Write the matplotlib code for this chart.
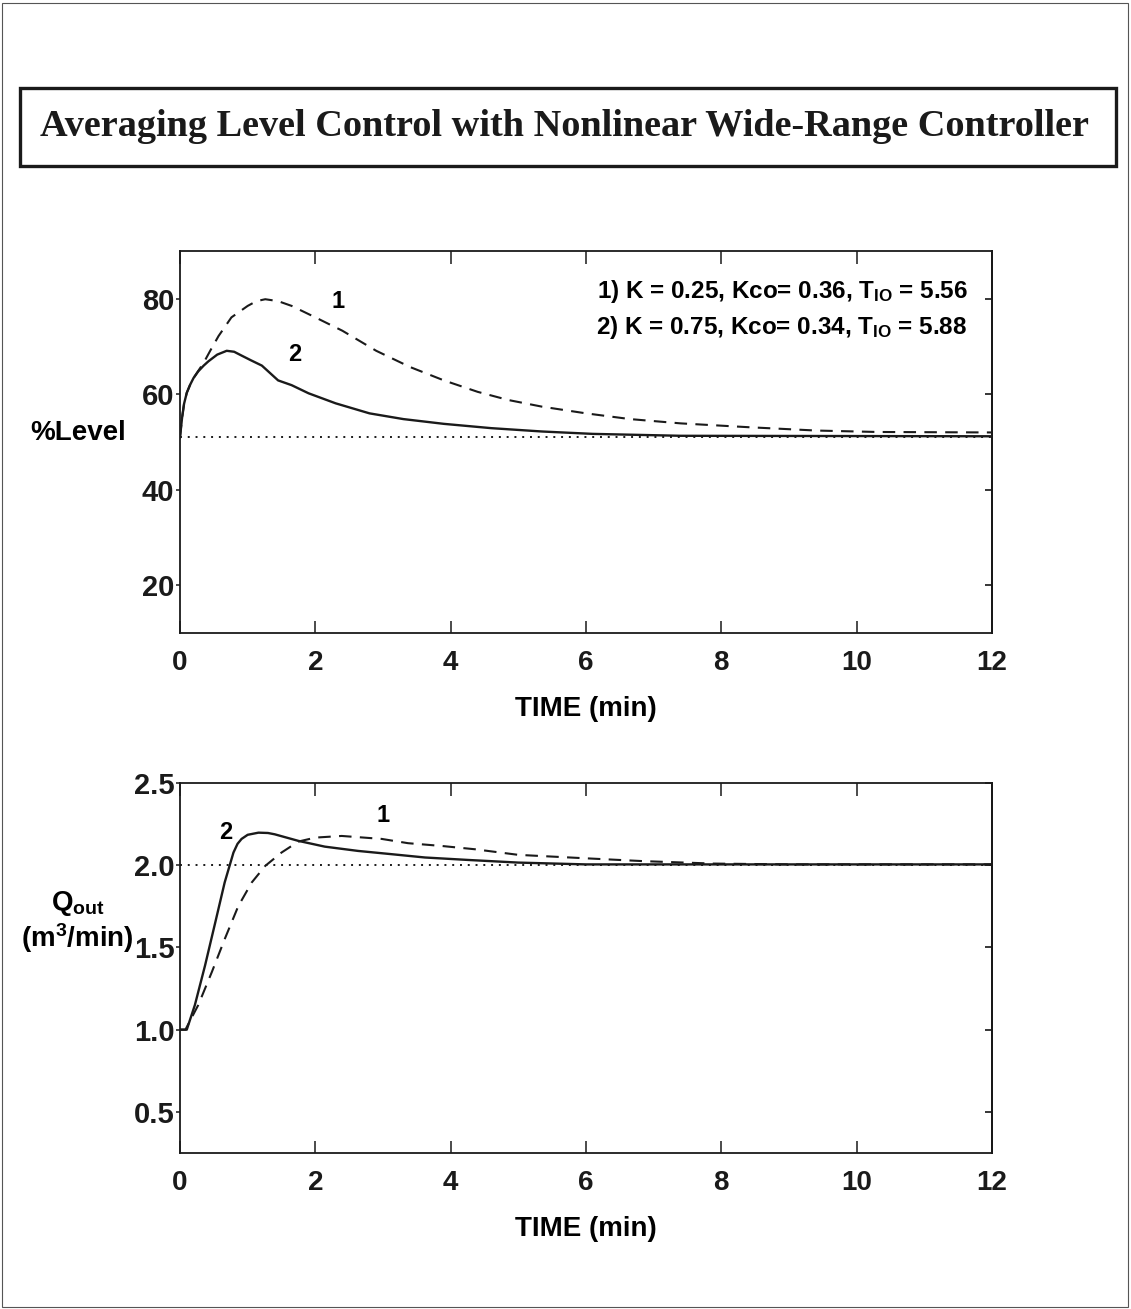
import matplotlib
matplotlib.use("Agg")
import matplotlib.pyplot as plt
import matplotlib.patches as patches
from matplotlib import font_manager

# --- data ---
# upper panel: %Level vs time (min)
lvl_t1 = [0, 0.03, 0.06, 0.1, 0.15, 0.2, 0.27, 0.35, 0.45, 0.57, 0.76, 1.0,
          1.13, 1.26, 1.45, 1.65, 2.0, 2.4, 2.9, 3.4, 3.9, 4.4, 4.85, 5.35,
          6.0, 6.65, 7.4, 8.4, 9.4, 10.3, 12.0]
lvl_1 = [51, 55, 58, 60.3, 62, 63.4, 64.9, 66.6, 69.2, 72.2, 76.1, 78.5,
         79.5, 79.9, 79.5, 78.5, 76.1, 73.3, 69.1, 65.7, 62.9, 60.5, 58.8, 57.4,
         56.0, 54.8, 53.9, 53.1, 52.4, 52.1, 52.0]
lvl_t2 = [0, 0.03, 0.06, 0.1, 0.15, 0.2, 0.27, 0.35, 0.42, 0.55, 0.69, 0.8,
          0.91, 1.05, 1.21, 1.45, 1.65, 1.9, 2.3, 2.8, 3.3, 3.9, 4.6, 5.35,
          6.1, 7.4, 12.0]
lvl_2 = [51, 55, 58, 60.3, 62, 63.4, 64.8, 66.0, 66.9, 68.3, 69.1, 68.9,
         68.1, 67.1, 66.0, 62.9, 61.9, 60.2, 58.1, 56.0, 54.8, 53.8, 52.9, 52.2,
         51.7, 51.3, 51.2]
lvl_setpoint = 51

# lower panel: Qout (m3/min) vs time (min)
q_t1 = [0, 0.08, 0.27, 0.47, 0.66, 0.86, 1.06, 1.26, 1.5, 1.75, 2.0, 2.39,
        2.98, 3.37, 3.87, 4.36, 5.0, 6.0, 6.84, 7.88, 9.0, 12.0]
q_1 = [1.0, 1.0, 1.15, 1.35, 1.55, 1.75, 1.895, 1.996, 2.077, 2.144, 2.168, 2.178,
       2.16, 2.134, 2.117, 2.097, 2.063, 2.042, 2.025, 2.01, 2.005, 2.005]
q_t2 = [0, 0.1, 0.22, 0.37, 0.52, 0.66, 0.79, 0.85, 0.91, 1.0, 1.16, 1.3, 1.4,
        1.75, 2.14, 2.63, 3.13, 3.62, 4.26, 5.0, 6.0, 12.0]
q_2 = [1.0, 1.0, 1.15, 1.39, 1.65, 1.895, 2.077, 2.13, 2.16, 2.185, 2.198, 2.196,
       2.188, 2.148, 2.113, 2.087, 2.067, 2.047, 2.032, 2.016, 2.005, 2.005]
q_setpoint = 2.0

x_ticks = [0, 2, 4, 6, 8, 10, 12]
lvl_ticks = [20, 40, 60, 80]
q_ticks = [0.5, 1.0, 1.5, 2.0, 2.5]
case_labels = [r"1) K = 0.25, Kco= 0.36, T$_{\mathrm{IO}}$ = 5.56",
               r"2) K = 0.75, Kco= 0.34, T$_{\mathrm{IO}}$ = 5.88"]
TITLE = "Averaging Level Control with Nonlinear Wide-Range Controller"

available = set(f.name for f in font_manager.fontManager.ttflist)
SANS = "Liberation Sans" if "Liberation Sans" in available else "DejaVu Sans"
SERIF = "Liberation Serif" if "Liberation Serif" in available else "DejaVu Serif"

plt.rcParams["font.family"] = SANS
plt.rcParams["font.weight"] = "bold"
plt.rcParams["axes.labelweight"] = "bold"
plt.rcParams["mathtext.fontset"] = "custom"
plt.rcParams["mathtext.rm"] = SANS + ":bold"
plt.rcParams["mathtext.it"] = SANS + ":bold"
plt.rcParams["mathtext.bf"] = SANS + ":bold"

INK = "#1a1a1a"
W, H = 1131, 1309


def style_axes(ax, yticks):
    """common MATLAB-ish look"""
    for sp in ax.spines.values():
        sp.set_linewidth(1.3)
        sp.set_color(INK)
    ax.set_xlim(0, 12)
    ax.set_xticks(x_ticks)
    ax.set_yticks(yticks)
    ax.tick_params(axis="x", top=True, direction="in", length=9, width=1.1,
                   pad=12, labelsize=20, colors=INK)
    ax.tick_params(axis="y", direction="out", length=3, width=1.1,
                   pad=1, labelsize=21, colors=INK)
    sec = ax.secondary_yaxis("right")
    sec.set_yticks(yticks)
    sec.tick_params(direction="in", length=5, width=1.1, labelright=False)
    sec.spines["right"].set_linewidth(1.3)
    ax.set_xlabel("TIME (min)", fontsize=20, weight="bold")


fig = plt.figure(figsize=(W / 100, H / 100), dpi=100)

# title box
fig.add_artist(patches.Rectangle((20 / W, 1 - 166 / H), 1096 / W, 78 / H,
                                 transform=fig.transFigure, fill=False,
                                 lw=2.4, ec=INK))
fig.text(564 / W, 1 - 126 / H, TITLE, ha="center", va="center",
         family=SERIF, weight="bold", fontsize=27.5, color=INK)
# page border
fig.add_artist(patches.Rectangle((2 / W, 2 / H), 1 - 5 / W, 1 - 5 / H,
                                 transform=fig.transFigure, fill=False,
                                 lw=0.8, ec="#555555"))

# upper panel
ax1 = fig.add_axes([180 / W, 1 - 633 / H, 812 / W, 382 / H])
ax1.plot(lvl_t1, lvl_1, color=INK, lw=1.5, dashes=(6, 4))
ax1.plot(lvl_t2, lvl_2, color=INK, lw=1.7)
ax1.axhline(lvl_setpoint, color=INK, lw=1.4, ls=(0, (1, 3)))
ax1.set_ylim(10, 90)
style_axes(ax1, lvl_ticks)
ax1.xaxis.set_label_coords(0.5, -0.165)
ax1.set_ylabel("%Level", rotation=0, fontsize=20, ha="center", va="center")
ax1.yaxis.set_label_coords(-0.1256, 0.5236)
ax1.text(2.33, 79.5, "1", ha="center", va="center", fontsize=17)
ax1.text(1.70, 68.3, "2", ha="center", va="center", fontsize=17)
ax1.text(0.97, 0.895, case_labels[0], transform=ax1.transAxes,
         ha="right", va="center", fontsize=17.5)
ax1.text(0.97, 0.801, case_labels[1], transform=ax1.transAxes,
         ha="right", va="center", fontsize=17.5)

# lower panel
ax2 = fig.add_axes([180 / W, 1 - 1153 / H, 812 / W, 370 / H])
ax2.plot(q_t1, q_1, color=INK, lw=1.5, dashes=(6, 4))
ax2.plot(q_t2, q_2, color=INK, lw=1.7)
ax2.axhline(q_setpoint, color=INK, lw=1.4, ls=(0, (1, 3)))
ax2.set_ylim(0.25, 2.5)
style_axes(ax2, q_ticks)
ax2.set_yticklabels(["%.1f" % v for v in q_ticks])
ax2.xaxis.set_label_coords(0.5, -0.17)
ax2.set_ylabel("Q$_{\\mathrm{out}}$\n(m$^{3}$/min)", rotation=0, fontsize=20,
               ha="center", va="center", linespacing=1.1)
ax2.yaxis.set_label_coords(-0.126, 0.624)
ax2.text(0.68, 2.20, "2", ha="center", va="center", fontsize=17)
ax2.text(3.0, 2.30, "1", ha="center", va="center", fontsize=17)

fig.savefig("out.png", dpi=100, facecolor="white")
